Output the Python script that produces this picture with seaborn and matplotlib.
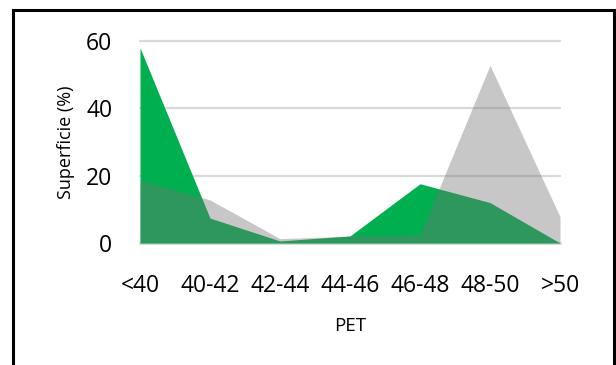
import matplotlib
matplotlib.use("Agg")
import matplotlib.pyplot as plt
import seaborn as sns
import pandas as pd
from matplotlib.patches import Rectangle

# values
categories = ['<40', '40-42', '42-44', '44-46', '46-48', '48-50', '>50']
verde = [58.0, 7.4, 0.6, 2.1, 17.6, 12.0, 0.0]
gris = [18.7, 12.8, 1.3, 2.0, 2.4, 52.8, 7.8]
yticks = [0, 20, 40, 60]

sns.set_theme(style='white')
plt.rcParams['font.family'] = ['Open Sans', 'DejaVu Sans']

df = pd.DataFrame({'PET': categories, 'verde': verde, 'gris': gris})
df['pos'] = range(len(df))

fig = plt.figure(figsize=(6.16, 3.65), dpi=100)
ax = fig.add_axes([140/616, 1-243/365, 420/616, 202/365])

# gridlines (under the areas)
for y in yticks[1:]:
    ax.axhline(y, color='#d9d9d9', lw=1.6, zorder=0, clip_on=False)
ax.axhline(0, color='#d9d9d9', lw=2.2, zorder=0.5, clip_on=False)

sns.lineplot(data=df, x='pos', y='verde', ax=ax, color='#00b050', lw=0)
ax.fill_between(df['pos'], df['verde'], color='#00b050', lw=0, zorder=2)
sns.lineplot(data=df, x='pos', y='gris', ax=ax, color='#737373', lw=0)
ax.fill_between(df['pos'], df['gris'], color='#737373', alpha=0.4, lw=0, zorder=3)

ax.set_xlim(0, len(categories) - 1)
ax.set_ylim(0, 60)
ax.set_xticks(df['pos'], categories)
ax.set_yticks(yticks)
ax.tick_params(axis='x', length=0, pad=22, labelsize=16.5, colors='black')
ax.tick_params(axis='y', length=0, pad=20, labelsize=16.5, colors='black')
ax.set_xlabel('PET', fontsize=13.5, labelpad=14, color='black')
ax.set_ylabel('Superficie (%)', fontsize=13, labelpad=8, color='black')
for s in ax.spines.values():
    s.set_visible(False)

# outer frame (bottom runs off the image)
fig.patches.append(Rectangle((12.5/616, -0.1), 601/616, 1.1 - 9.5/365,
                             transform=fig.transFigure, fill=False,
                             lw=2.2, ec='black'))

fig.savefig('out.png', dpi=100)
